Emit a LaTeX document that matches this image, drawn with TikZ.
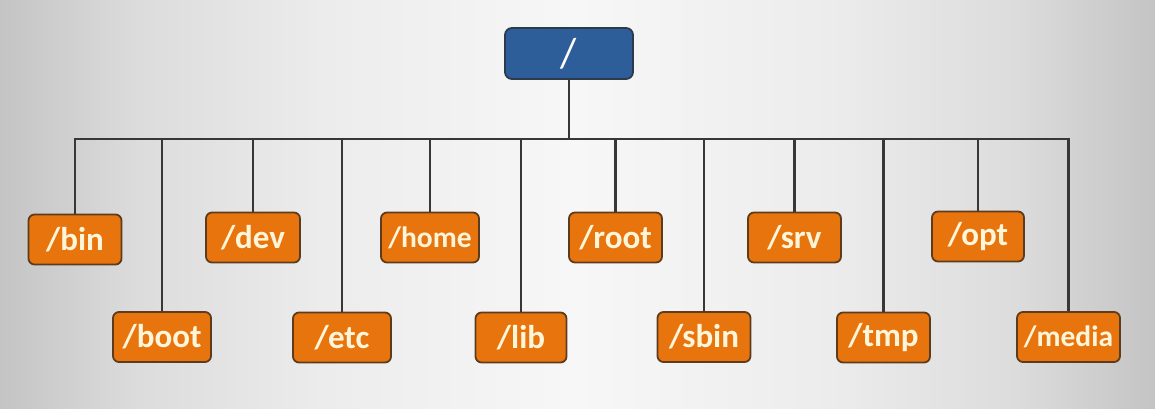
\documentclass[tikz,border=0pt]{standalone}
\usepackage{fontspec}
\setmainfont{Carlito}
\definecolor{bgedge}{RGB}{196,196,196}
\definecolor{bgb}{RGB}{220,220,220}
\definecolor{bgc}{RGB}{236,236,236}
\definecolor{bgmid}{RGB}{247,247,247}
\definecolor{boxorange}{RGB}{232,116,14}
\definecolor{boxborder}{RGB}{92,60,30}
\definecolor{rootblue}{RGB}{46,94,154}
\definecolor{rootborder}{RGB}{45,58,75}
\definecolor{linegray}{RGB}{55,55,55}
\definecolor{txtcream}{RGB}{255,246,218}
\pgfdeclarehorizontalshading{bgshade}{100bp}{color(0bp)=(bgedge); color(25bp)=(bgedge);
  color(31bp)=(bgb); color(39bp)=(bgc); color(50bp)=(bgmid); color(61bp)=(bgc);
  color(69bp)=(bgb); color(75bp)=(bgedge); color(100bp)=(bgedge)}
\tikzset{
  dirbox/.style={draw=boxborder, line width=1.8pt, fill=boxorange, rounded corners=6pt,
    inner sep=0pt, minimum height=50pt, text=txtcream,
    font=\bfseries\fontsize{33}{33}\selectfont},
  smalltxt/.style={font=\bfseries\fontsize{29.5}{29.5}\selectfont},
  rootbox/.style={draw=rootborder, line width=1.8pt, fill=rootblue, rounded corners=7pt,
    inner sep=0pt, minimum width=128pt, minimum height=51pt, text=white,
    font=\fontsize{42}{42}\selectfont},
  conn/.style={draw=linegray, line width=2.8pt}
}
\begin{document}
\begin{tikzpicture}[x=1pt,y=-1pt]
\shade[shading=bgshade] (0,0) rectangle (1155,409);
\useasboundingbox (0,0) rectangle (1155,409);

\node[rootbox] (root) at (569,53.5) {/};
\coordinate (j) at (569,139);

% upper row
\node[dirbox, minimum width=93pt] (bin)  at (75,239.5) {/bin};
\node[dirbox, minimum width=94pt] (dev)  at (253,237.5) {/dev};
\node[dirbox, minimum width=98pt, smalltxt] (home) at (430,237.5) {/home};
\node[dirbox, minimum width=93pt] (rootdir) at (615.5,237.5) {/root};
\node[dirbox, minimum width=93pt] (srv)  at (794.5,237.5) {/srv};
\node[dirbox, minimum width=92pt] (opt)  at (978,236.5) {/opt};
% lower row
\node[dirbox, minimum width=98pt] (boot) at (162,337) {/boot};
\node[dirbox, minimum width=98pt] (etc)  at (342,337.5) {/etc};
\node[dirbox, minimum width=91pt] (lib)  at (521,337.5) {/lib};
\node[dirbox, minimum width=93pt] (sbin) at (704,337) {/sbin};
\node[dirbox, minimum width=93pt] (tmp)  at (883.5,337.5) {/tmp};
\node[dirbox, minimum width=103pt, smalltxt] (media) at (1068.5,337) {/media};

\draw[conn] (root.south) -- (j);
\foreach \n in {bin,boot,dev,etc,home,lib,rootdir,sbin,srv,tmp,opt,media}
  \draw[conn] (j) -| (\n.north);
\end{tikzpicture}
\end{document}
